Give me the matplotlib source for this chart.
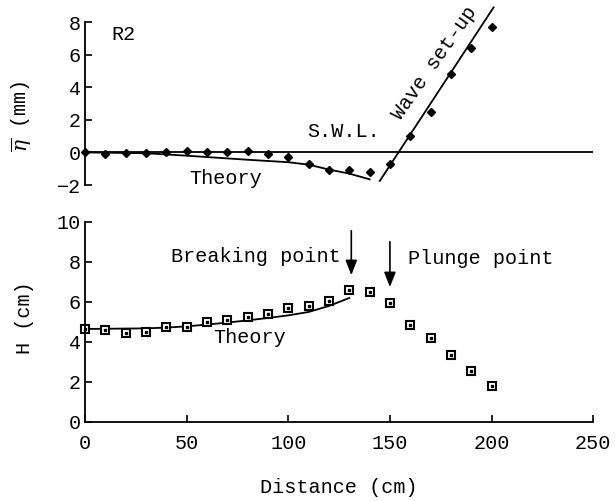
import matplotlib
matplotlib.use("Agg")
import matplotlib.pyplot as plt
import numpy as np

plt.rcParams['font.family'] = ['Liberation Mono', 'DejaVu Sans']
plt.rcParams['mathtext.fontset'] = 'dejavuserif'

# Top panel: mean water level (mm)
dist_setup = [0, 10, 20, 30, 40, 50, 60, 70, 80, 90, 100, 110, 120, 130, 140,
              150, 160, 170, 180, 190, 200]
eta_meas = [0.0, -0.1, -0.05, -0.05, 0.0, 0.1, 0.0, 0.0, 0.1, -0.1, -0.3, -0.7,
            -1.1, -1.1, -1.2, -0.7, 1.0, 2.5, 4.8, 6.4, 7.7]
theory_eta_x = [0, 30, 50, 80, 100, 110, 120, 130, 140]
theory_eta_y = [0.0, -0.05, -0.2, -0.45, -0.6, -0.75, -1.05, -1.3, -1.65]
setup_line_x = [145, 201]
setup_line_y = [-1.75, 8.9]

# Bottom panel: wave height (cm)
dist_H = [0, 10, 20, 30, 40, 50, 60, 70, 80, 90, 100, 110, 120, 130, 140,
          150, 160, 170, 180, 190, 200]
H_meas = [4.64, 4.6, 4.47, 4.52, 4.77, 4.75, 5.0, 5.08, 5.23, 5.38, 5.68, 5.8,
          6.07, 6.6, 6.52, 5.93, 4.85, 4.22, 3.35, 2.57, 1.82]
theory_H_x = [0, 10, 20, 30, 40, 50, 60, 70, 80, 90, 100, 110, 120, 130]
theory_H_y = [4.65, 4.66, 4.67, 4.68, 4.72, 4.78, 4.87, 4.97, 5.08, 5.2, 5.33,
              5.5, 5.8, 6.2]

fig = plt.figure(figsize=(6.16, 5.01), dpi=100)
FS = 14.5

# ---- top axes
ax1 = fig.add_axes([0.138, 0.6307, 0.825, 0.3253])
ax1.set_xlim(0, 250)
ax1.set_ylim(-2, 8)
for s in ['top', 'right', 'bottom']:
    ax1.spines[s].set_visible(False)
ax1.spines['left'].set_linewidth(1.3)
ax1.set_xticks([])
ax1.set_yticks([-2, 0, 2, 4, 6, 8])
ax1.tick_params(axis='y', direction='in', length=5, width=1.2, labelsize=FS, pad=3)
ax1.axhline(0, color='black', lw=1.3, xmin=0, xmax=1)
ax1.plot(theory_eta_x, theory_eta_y, color='black', lw=1.3)
ax1.plot(setup_line_x, setup_line_y, color='black', lw=1.3, clip_on=False)
ax1.plot(dist_setup, eta_meas, linestyle='none', marker='D', markersize=4.5,
         color='black', clip_on=False)
ax1.text(19, 7.25, 'R2', fontsize=FS, ha='center', va='center')
ax1.text(127, 1.3, 'S.W.L.', fontsize=FS, ha='center', va='center')
ax1.text(69, -1.6, 'Theory', fontsize=FS, ha='center', va='center')
ax1.text(172, 5.5, 'Wave set-up', fontsize=FS, ha='center', va='center',
         rotation=55, rotation_mode='anchor')
ax1.set_ylabel(r'$\overline{\eta}$ (mm)', fontsize=FS, va='center')
ax1.yaxis.set_label_coords(-0.124, 0.42)

# ---- bottom axes
ax2 = fig.add_axes([0.138, 0.1577, 0.825, 0.3993])
ax2.set_xlim(0, 250)
ax2.set_ylim(0, 10)
for s in ['top', 'right']:
    ax2.spines[s].set_visible(False)
ax2.spines['left'].set_linewidth(1.3)
ax2.spines['bottom'].set_linewidth(1.3)
ax2.set_xticks([0, 50, 100, 150, 200, 250])
ax2.set_yticks([0, 2, 4, 6, 8, 10])
ax2.tick_params(axis='x', direction='in', length=5, width=1.2, labelsize=FS, pad=9)
ax2.tick_params(axis='y', direction='in', length=5, width=1.2, labelsize=FS, pad=3)
ax2.plot(theory_H_x, theory_H_y, color='black', lw=1.3)
ax2.plot(dist_H, H_meas, linestyle='none', marker='s', markersize=6,
         markerfacecolor='white', markeredgecolor='black', markeredgewidth=1.5,
         clip_on=False)
ax2.plot(dist_H, H_meas, linestyle='none', marker='s', markersize=1.5,
         color='black', clip_on=False)
ax2.text(81, 4.2, 'Theory', fontsize=FS, ha='center', va='center')
ax2.text(126, 8.25, 'Breaking point', fontsize=FS, ha='right', va='center')
ax2.text(159, 8.15, 'Plunge point', fontsize=FS, ha='left', va='center')
ax2.annotate('', xy=(131, 7.2), xytext=(131, 9.7),
             arrowprops=dict(arrowstyle='-|>,head_width=0.35,head_length=0.9',
                             color='black', lw=1.2))
ax2.annotate('', xy=(150, 6.6), xytext=(150, 9.15),
             arrowprops=dict(arrowstyle='-|>,head_width=0.35,head_length=0.9',
                             color='black', lw=1.2))
ax2.set_ylabel('H (cm)', fontsize=FS, va='center')
ax2.yaxis.set_label_coords(-0.12, 0.52)
ax2.set_xlabel('Distance (cm)', fontsize=FS, va='center')
ax2.xaxis.set_label_coords(0.5, -0.325)

fig.savefig('out.png', dpi=100)
